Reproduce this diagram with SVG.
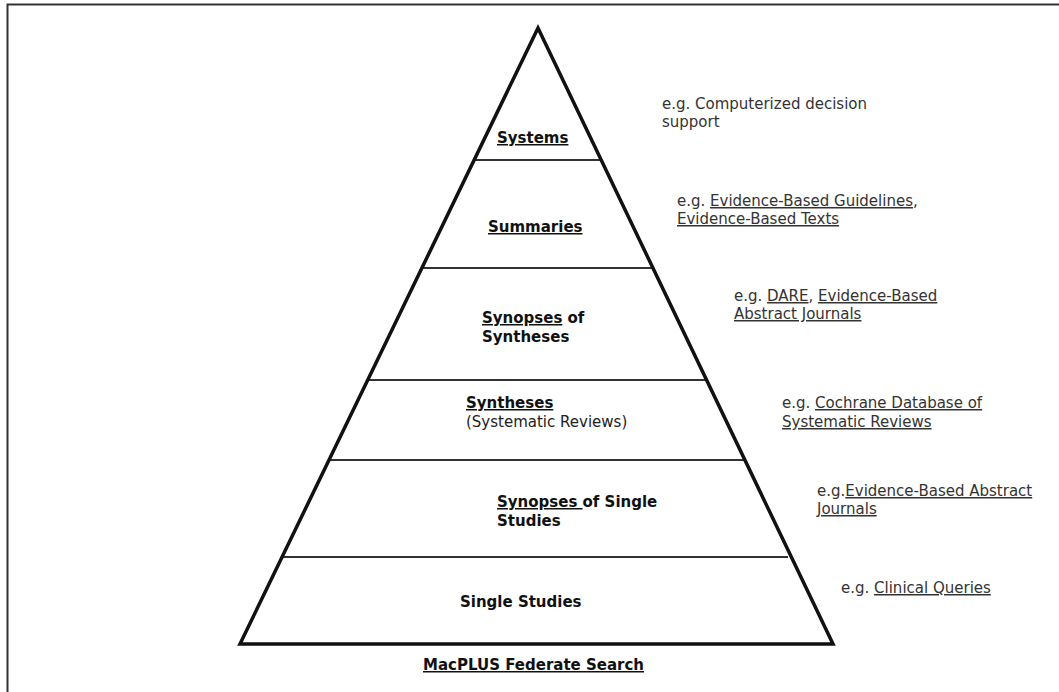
<svg xmlns="http://www.w3.org/2000/svg" width="1059" height="692" viewBox="0 0 1059 692">
<style>
.lbl{font-family:"DejaVu Sans","Verdana",sans-serif;font-size:15px;font-weight:bold;fill:#111}
.reg{font-family:"DejaVu Sans","Verdana",sans-serif;font-size:15px;fill:#333}
.u{text-decoration:underline}
.div{stroke:#333;stroke-width:2;fill:none}
</style>
<rect width="1059" height="692" fill="#fff"/>
<path d="M7.5,692 V4.5 H1059" fill="none" stroke="#333" stroke-width="2"/>
<g id="pyramid">
<line class="div" x1="474" y1="160" x2="602" y2="160"/>
<line class="div" x1="422" y1="268" x2="654" y2="268"/>
<line class="div" x1="368" y1="380" x2="707" y2="380"/>
<line class="div" x1="329" y1="460" x2="745" y2="460"/>
<line class="div" x1="282" y1="557" x2="788" y2="557"/>
<path d="M240,644 L538,28 L833,644 Z" fill="none" stroke="#111" stroke-width="3.5" stroke-linejoin="miter"/>
</g>
<g id="connectors"></g>
<g id="systems">
<text class="lbl" x="497" y="143"><tspan class="u">Systems</tspan></text>
<text class="reg" x="662" y="109">e.g. Computerized decision</text>
<text class="reg" x="662" y="127">support</text>
</g>
<g id="summaries">
<text class="lbl" x="488" y="232"><tspan class="u">Summaries</tspan></text>
<text class="reg" x="677" y="206">e.g. <tspan class="u">Evidence-Based Guidelines</tspan>,</text>
<text class="reg" x="677" y="224"><tspan class="u">Evidence-Based Texts</tspan></text>
</g>
<g id="synopses-of-syntheses">
<text class="lbl" x="482" y="323"><tspan class="u">Synopses</tspan> of</text>
<text class="lbl" x="482" y="342">Syntheses</text>
<text class="reg" x="734" y="301">e.g. <tspan class="u">DARE</tspan>, <tspan class="u">Evidence-Based</tspan></text>
<text class="reg" x="734" y="319"><tspan class="u">Abstract Journals</tspan></text>
</g>
<g id="syntheses">
<text class="lbl" x="466" y="408"><tspan class="u">Syntheses</tspan></text>
<text class="reg" x="466" y="427" style="fill:#222">(Systematic Reviews)</text>
<text class="reg" x="782" y="408">e.g. <tspan class="u">Cochrane Database of</tspan></text>
<text class="reg" x="782" y="427"><tspan class="u">Systematic Reviews</tspan></text>
</g>
<g id="synopses-of-single-studies">
<text class="lbl" x="497" y="507"><tspan class="u">Synopses </tspan>of Single</text>
<text class="lbl" x="497" y="526">Studies</text>
<text class="reg" x="817" y="496">e.g.<tspan class="u">Evidence-Based Abstract</tspan></text>
<text class="reg" x="817" y="514"><tspan class="u">Journals</tspan></text>
</g>
<g id="single-studies">
<text class="lbl" x="460" y="607">Single Studies</text>
<text class="reg" x="841" y="593">e.g. <tspan class="u">Clinical Queries</tspan></text>
</g>
<g id="macplus">
<text class="lbl" x="423" y="670"><tspan class="u">MacPLUS Federate Search</tspan></text>
</g>
</svg>
